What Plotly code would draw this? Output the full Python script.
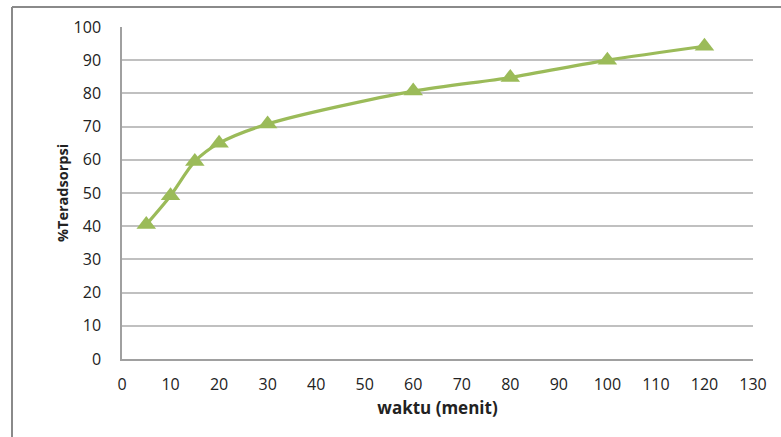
import plotly.graph_objects as go

waktu = [5, 10, 15, 20, 30, 60, 80, 100, 120]
teradsorpsi = [40.5, 49.2, 59.5, 65.0, 70.8, 80.7, 84.8, 90.0, 94.2]
x_ticks = list(range(0, 131, 10))
y_ticks = list(range(0, 101, 10))

L, R, T, B = 122, 28, 27, 78
W, H = 781, 437
pw, ph = W - L - R, H - T - B

fig = go.Figure()
fig.add_trace(go.Scatter(
    x=waktu, y=teradsorpsi, mode="lines+markers",
    line=dict(color="#9BBB59", width=3.2, shape="spline", smoothing=0.8),
    marker=dict(symbol="triangle-up", size=17, color="#9BBB59"),
    showlegend=False,
))

bx = (12 - L) / pw
by = 1 + (T - 7) / ph
fig.add_shape(type="line", xref="paper", yref="paper", x0=bx, x1=bx, y0=by, y1=-0.5,
              line=dict(color="#8a8a8a", width=2))
fig.add_shape(type="line", xref="paper", yref="paper", x0=bx, x1=1.2, y0=by, y1=by,
              line=dict(color="#8a8a8a", width=2))

fig.update_layout(
    width=W, height=H,
    margin=dict(l=L, r=R, t=T, b=B),
    paper_bgcolor="white", plot_bgcolor="white",
    font=dict(family="Open Sans", size=16, color="#222"),
    xaxis=dict(range=[0, 130], tickvals=x_ticks, showgrid=False, showline=True,
               linecolor="#a0a0a0", linewidth=1.5, ticks="", zeroline=False,
               ticklabelstandoff=10, tickfont=dict(size=16),
               title=dict(text="<b>waktu (menit)</b>", font=dict(size=17), standoff=8)),
    yaxis=dict(range=[0, 100], tickvals=y_ticks, showgrid=True, gridcolor="#c0c0c0",
               gridwidth=1.5, showline=True, linecolor="#a0a0a0", linewidth=1.5,
               ticks="", zeroline=False, ticklabelstandoff=16, tickfont=dict(size=16),
               title=dict(text="<b>%Teradsorpsi</b>", font=dict(size=14.5), standoff=2)),
)
fig.write_html("out.html", config={"displayModeBar": False},
               post_script="document.body.style.margin='0';")
